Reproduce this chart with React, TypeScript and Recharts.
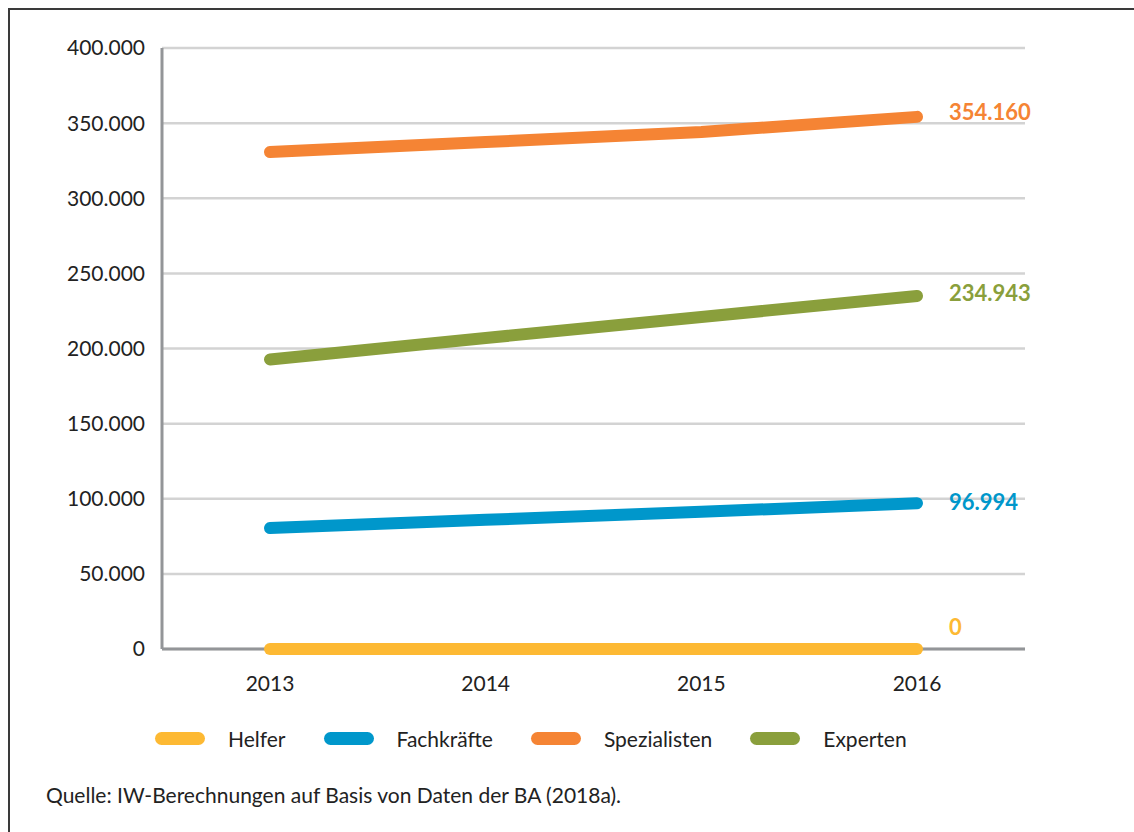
import { LineChart, Line, XAxis, YAxis, CartesianGrid } from 'recharts'

const years = ['2013', '2014', '2015', '2016']
const helfer = [0, 0, 0, 0]
const fachkraefte = [80500, 86000, 91300, 96994]
const spezialisten = [330800, 337400, 344100, 354160]
const experten = [192700, 207000, 221000, 234943]
const yTicks = [0, 50000, 100000, 150000, 200000, 250000, 300000, 350000, 400000]

const series = [
  { key: 'helfer', name: 'Helfer', color: '#FDB933', values: helfer, dy: -14 },
  { key: 'fachkraefte', name: 'Fachkräfte', color: '#0097CB', values: fachkraefte, dy: 7 },
  { key: 'spezialisten', name: 'Spezialisten', color: '#F58434', values: spezialisten, dy: 3 },
  { key: 'experten', name: 'Experten', color: '#8A9F3C', values: experten, dy: 5 },
]

const data = years.map((year, i) => {
  const row: Record<string, string | number> = { year }
  series.forEach(s => { row[s.key] = s.values[i] })
  return row
})

// German thousands separator
const fmt = (v: number) => String(v).replace(/\B(?=(\d{3})+(?!\d))/g, '.')

const FONT = 'Lato, sans-serif'

function endLabel(color: string, dy: number) {
  return (props: any) => {
    const { x, y, value, index } = props
    if (index !== years.length - 1) return null
    return (
      <text x={x + 32} y={y + dy} fill={color} fontSize={22} fontWeight={700} fontFamily={FONT}>
        {fmt(value)}
      </text>
    )
  }
}

export default function App() {
  return (
    <div style={{ position: 'absolute', left: 0, top: 0, width: 1134, height: 832, overflow: 'hidden', background: '#fff', fontFamily: FONT }}>
      {/* frame */}
      <div style={{ position: 'absolute', left: 8, top: 8, width: 1200, height: 900, border: '2px solid #3a3a3a' }} />

      <div style={{ position: 'absolute', left: 0, top: 0 }}>
        <LineChart width={1134} height={700} data={data} margin={{ top: 48, right: 109, left: 0, bottom: 11 }}>
          <CartesianGrid vertical={false} stroke="#d3d3d3" strokeWidth={2.5} />
          <XAxis
            dataKey="year"
            padding={{ left: 108, right: 108 }}
            axisLine={{ stroke: '#939598', strokeWidth: 3 }}
            tickLine={false}
            tickSize={6}
            tickMargin={21}
            height={40}
            tick={{ fontSize: 21, fill: '#222', fontFamily: FONT }}
          />
          <YAxis
            width={162}
            domain={[0, 400000]}
            ticks={yTicks}
            tickFormatter={fmt}
            axisLine={{ stroke: '#939598', strokeWidth: 3 }}
            tickLine={false}
            tickSize={6}
            tickMargin={11}
            tick={{ fontSize: 21, fill: '#222', fontFamily: FONT }}
          />
          {series.map(s => (
            <Line
              key={s.key}
              dataKey={s.key}
              name={s.name}
              stroke={s.color}
              strokeWidth={12}
              strokeLinecap="round"
              dot={false}
              activeDot={false}
              type="linear"
              zIndex={600}
              isAnimationActive={false}
              label={endLabel(s.color, s.dy)}
            />
          ))}
        </LineChart>
      </div>

      {/* legend */}
      <div style={{ position: 'absolute', left: 155, top: 726, display: 'flex', alignItems: 'center', fontSize: 21, color: '#222' }}>
        {series.map(s => (
          <div key={s.key} style={{ display: 'flex', alignItems: 'center', marginRight: 38 }}>
            <span style={{ display: 'inline-block', width: 50, height: 13, borderRadius: 7, background: s.color, marginRight: 23 }} />
            <span>{s.name}</span>
          </div>
        ))}
      </div>

      <div style={{ position: 'absolute', left: 46, top: 782, fontSize: 21, color: '#222' }}>
        Quelle: IW-Berechnungen auf Basis von Daten der BA (2018a).
      </div>
    </div>
  )
}
